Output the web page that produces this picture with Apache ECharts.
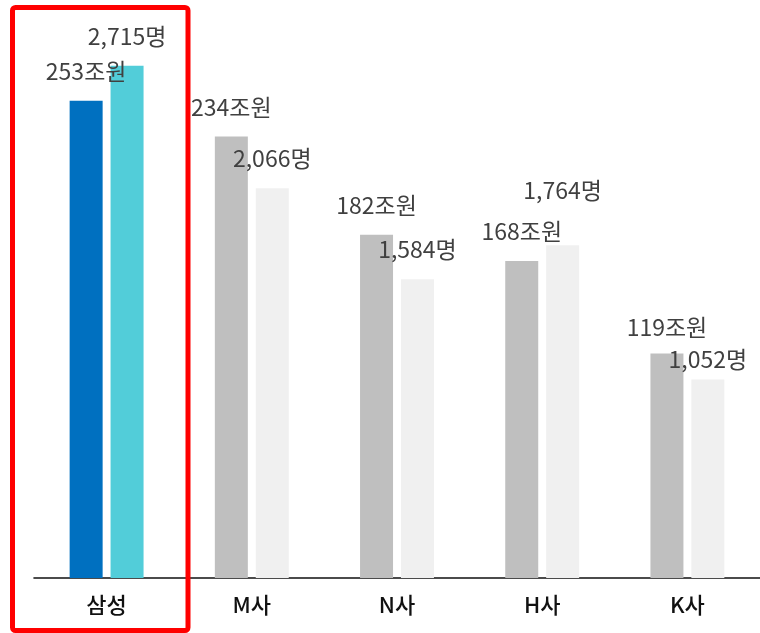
<!DOCTYPE html>
<html><head><meta charset="utf-8">
<script src="https://cdn.jsdelivr.net/npm/echarts@6/dist/echarts.min.js"></script>
<style>html,body{margin:0;padding:0;background:#fff;}#c{width:760px;height:633px;}</style>
</head><body><div id="c"></div>
<script>
const categories = ['삼성', 'M사', 'N사', 'H사', 'K사'];
const revenue = [253, 234, 182, 168, 119];      // 조원
const staff = [2715, 2066, 1584, 1764, 1052];   // 명
const revenueColors = ['#0070C0', '#BFBFBF', '#BFBFBF', '#BFBFBF', '#BFBFBF'];
const staffColors = ['#52CDD9', '#F0F0F0', '#F0F0F0', '#F0F0F0', '#F0F0F0'];
const revenueLabelDist = [18, 18, 18, 18, 15];
const staffLabelDist = [18, 18, 18, 43, 9];

const FONT = '"Noto Sans CJK KR", "Noto Sans", sans-serif';
const labelStyle = { fontFamily: FONT, fontSize: 23, color: '#404040' };

const chart = echarts.init(document.getElementById('c'));
chart.setOption({
  animation: false,
  grid: { left: 34, width: 731, top: 12, bottom: 55, containLabel: false },
  xAxis: {
    type: 'category', data: categories,
    axisLine: { lineStyle: { color: '#111', width: 1.6 } },
    axisTick: { show: false },
    axisLabel: { fontFamily: FONT, fontSize: 22, color: '#111', fontWeight: 500, margin: 16 }
  },
  yAxis: [
    { type: 'value', min: 0, max: 300, show: false },
    { type: 'value', min: 0, max: 3000, show: false }
  ],
  series: [
    {
      type: 'bar', yAxisIndex: 0, barWidth: 33, barGap: '24%',
      data: revenue.map((v, i) => ({
        value: v, itemStyle: { color: revenueColors[i] },
        label: { distance: revenueLabelDist[i] }
      })),
      label: Object.assign({ show: true, position: 'top', formatter: p => p.value + '조원' }, labelStyle)
    },
    {
      type: 'bar', yAxisIndex: 1, barWidth: 33, barGap: '24%',
      data: staff.map((v, i) => ({
        value: v, itemStyle: { color: staffColors[i] },
        label: { distance: staffLabelDist[i] }
      })),
      label: Object.assign({ show: true, position: 'top', formatter: p => p.value.toLocaleString('en-US') + '명' }, labelStyle)
    }
  ],
  graphic: [{
    type: 'rect', z: 100,
    shape: { x: 12.5, y: 7.5, width: 175.5, height: 623, r: 3 },
    style: { fill: 'none', stroke: '#FF0000', lineWidth: 5 }
  }]
});
</script></body></html>
